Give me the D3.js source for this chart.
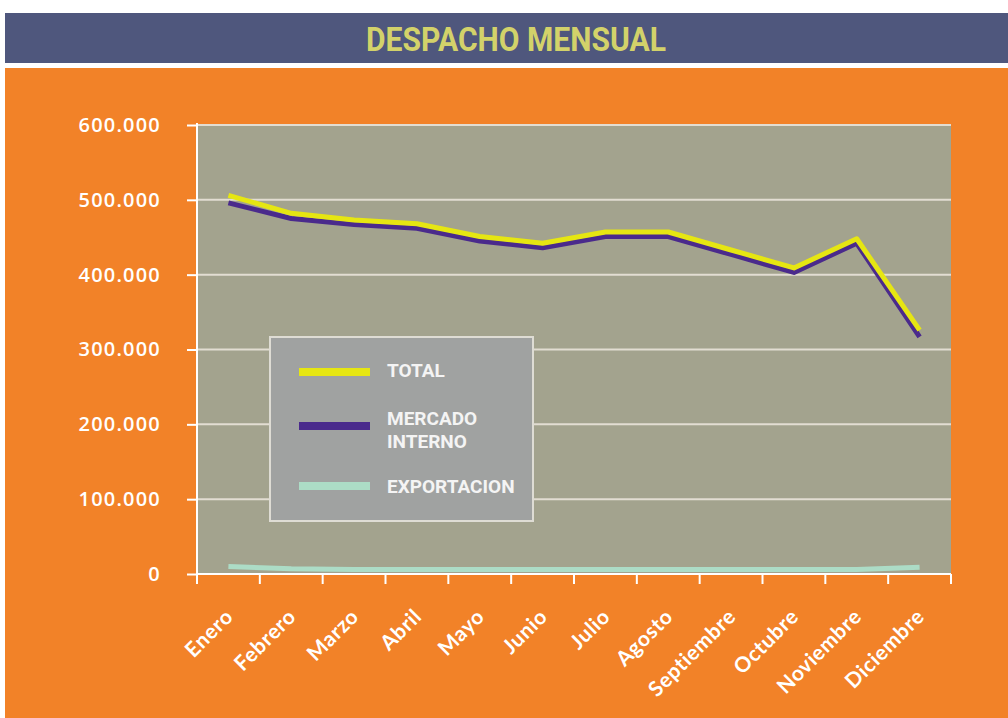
<!DOCTYPE html>
<html>
<head>
<meta charset="utf-8">
<script src="https://cdn.jsdelivr.net/npm/d3@7"></script>
<style>
  body { margin: 0; background: #ffffff; }
  svg { display: block; }
</style>
</head>
<body>
<svg id="svg1" width="1008" height="718"></svg>
<script>
// data
const months = ["Enero", "Febrero", "Marzo", "Abril", "Mayo", "Junio", "Julio", "Agosto",
                "Septiembre", "Octubre", "Noviembre", "Diciembre"];
const total = [506000, 482000, 473000, 468000, 451000, 442000, 457000, 457000, 433000, 409000, 448000, 326000];
const exportacion = [10000, 7000, 6000, 6000, 6000, 6000, 6000, 6000, 6000, 6000, 6000, 9000];
const mercadoInterno = total.map((t, i) => t - exportacion[i]);
const yTicks = [0, 100000, 200000, 300000, 400000, 500000, 600000];

const series = [
    { name: ["EXPORTACION"], values: exportacion, color: "#acdcc6" },
    { name: ["MERCADO", "INTERNO"], values: mercadoInterno, color: "#4a2a8c" },
    { name: ["TOTAL"], values: total, color: "#e6e612" }
];

const svg = d3.select("#svg1");
const plot = { left: 197, right: 951, top: 125, bottom: 574 };
const narrowFont = "Roboto, 'Open Sans', sans-serif";

// background panels
svg.append("rect").attr("x", 5).attr("y", 13).attr("width", 1003).attr("height", 50).attr("fill", "#4f577d");
svg.append("rect").attr("x", 5).attr("y", 68).attr("width", 1003).attr("height", 650).attr("fill", "#f28228");
svg.append("text")
    .attr("x", 366).attr("y", 51)
    .attr("textLength", 300)
    .attr("lengthAdjust", "spacingAndGlyphs")
    .attr("font-family", narrowFont)
    .attr("font-weight", "bold")
    .attr("font-size", "33px")
    .attr("fill", "#d3d26a")
    .text("DESPACHO MENSUAL");

const xScale = d3.scaleBand().domain(months).range([plot.left, plot.right]);
const yScale = d3.scaleLinear().domain([0, 600000]).range([plot.bottom, plot.top]);

svg.append("rect")
    .attr("x", plot.left).attr("y", plot.top)
    .attr("width", plot.right - plot.left).attr("height", plot.bottom - plot.top)
    .attr("fill", "#a3a38e");

// gridlines
svg.append("g").selectAll("line")
    .data(yTicks.filter(d => d > 0))
    .join("line")
    .attr("x1", plot.left).attr("x2", plot.right)
    .attr("y1", d => yScale(d)).attr("y2", d => yScale(d))
    .attr("stroke", "#e2ddd2").attr("stroke-width", 2);

// y axis
const leftAxis = d3.axisLeft(yScale).tickValues(yTicks).tickSize(10).tickPadding(26)
    .tickFormat(d => d === 0 ? "0" : d3.format(",")(d).replace(/,/g, "."));
const gy = svg.append("g").attr("transform", "translate(" + plot.left + ",0)").call(leftAxis);
gy.select(".domain").attr("stroke", "#ffffff").attr("stroke-width", 2).attr("d", "M0," + (plot.top - 2) + "V" + (plot.bottom + 8));
gy.selectAll(".tick line").attr("stroke", "#ffffff").attr("stroke-width", 2);
gy.selectAll(".tick text")
    .attr("fill", "#ffffff")
    .attr("font-family", "'Open Sans', sans-serif")
    .attr("font-weight", "600")
    .attr("font-size", "20px")
    .attr("letter-spacing", "1.2px");

// x axis: ticks at the band edges
const gx = svg.append("g").attr("transform", "translate(0," + plot.bottom + ")");
gx.append("line").attr("x1", plot.left).attr("x2", plot.right).attr("stroke", "#ffffff").attr("stroke-width", 2);
gx.selectAll(".xt")
    .data(months.concat(["end"]))
    .join("line")
    .attr("class", "xt")
    .attr("x1", (d, i) => i < months.length ? xScale(d) : plot.right)
    .attr("x2", (d, i) => i < months.length ? xScale(d) : plot.right)
    .attr("y1", 0).attr("y2", 10)
    .attr("stroke", "#ffffff").attr("stroke-width", 2);
gx.selectAll(".xl")
    .data(months)
    .join("text")
    .attr("class", "xl")
    .attr("text-anchor", "end")
    .attr("transform", d => "translate(" + (xScale(d) + xScale.bandwidth() / 2 + 6) + ",44) rotate(-45)")
    .attr("fill", "#ffffff")
    .attr("font-family", "Lato, sans-serif")
    .attr("font-weight", "bold")
    .attr("font-size", "21px")
    .attr("letter-spacing", "0.6px")
    .text(d => d);

// lines
const line = d3.line()
    .x((d, i) => xScale(months[i]) + xScale.bandwidth() / 2)
    .y(d => yScale(d));

svg.append("g").selectAll("path")
    .data(series)
    .join("path")
    .attr("d", d => line(d.values))
    .attr("fill", "none")
    .attr("stroke", d => d.color)
    .attr("stroke-width", 5)
    .attr("stroke-linejoin", "round");

// legend
const legend = svg.append("g").attr("transform", "translate(270,337)");
legend.append("rect").attr("width", 263).attr("height", 184)
    .attr("fill", "#a0a2a1").attr("stroke", "#dedcd4").attr("stroke-width", 2);
const legendItems = [series[2], series[1], series[0]];
const legendLineY = [35, 89, 149];
const legendTextY = [[40], [88, 111], [156]];
legendItems.forEach((s, i) => {
    legend.append("line")
        .attr("x1", 29).attr("x2", 100)
        .attr("y1", legendLineY[i]).attr("y2", legendLineY[i])
        .attr("stroke", s.color).attr("stroke-width", 8);
    s.name.forEach((n, j) => {
        legend.append("text")
            .attr("x", 117)
            .attr("y", legendTextY[i][j])
            .attr("fill", "#f4f4f4")
            .attr("font-family", narrowFont)
            .attr("font-weight", "bold")
            .attr("font-size", "19px")
            .text(n);
    });
});
</script>
</body>
</html>
